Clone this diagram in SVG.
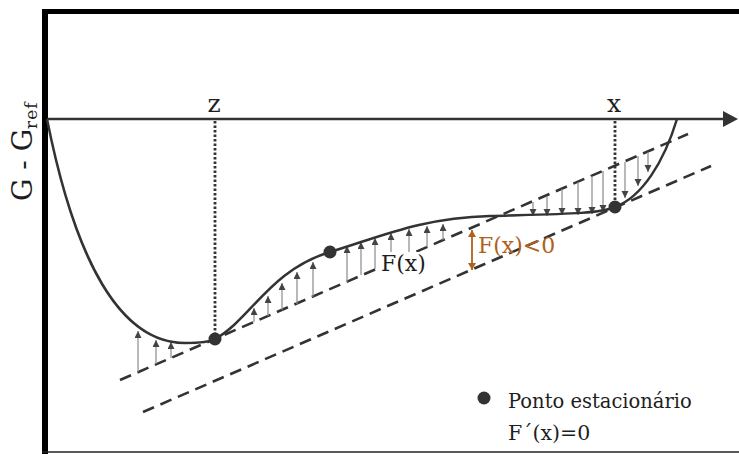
<svg xmlns="http://www.w3.org/2000/svg" width="739" height="454" viewBox="0 0 739 454">
<style>
.serif{font-family:"DejaVu Serif","Liberation Serif",serif;fill:#1e1e1e}
.curve{fill:none;stroke:#333;stroke-width:2.5}
.dash{fill:none;stroke:#333;stroke-width:2.6;stroke-dasharray:12 7}
.dot{fill:none;stroke:#333;stroke-width:2.8;stroke-dasharray:2.5 2}
.arr{stroke:#8a8a8a;stroke-width:1.2;marker-end:url(#ah)}
.pt{fill:#333}
</style>
<defs>
<marker id="ah" markerUnits="userSpaceOnUse" markerWidth="8" markerHeight="8" refX="7" refY="3.5" orient="auto">
<path d="M0,0 L7,3.5 L0,7 z" fill="#444"/>
</marker>
<marker id="oh" markerUnits="userSpaceOnUse" markerWidth="9" markerHeight="9" refX="7" refY="4" orient="auto-start-reverse">
<path d="M0,0 L7,4 L0,8 z" fill="#b0611d"/>
</marker>
</defs>
<rect width="739" height="454" fill="#fff"/>
<g id="frame">
<rect x="42" y="9" width="697" height="5" fill="#000"/>
<rect x="42" y="9" width="6" height="445" fill="#000"/>
<line x1="42" y1="452" x2="739" y2="452" stroke="#222" stroke-width="1.5"/>
</g>
<g id="axis">
<line x1="47" y1="119" x2="726" y2="119" stroke="#333" stroke-width="2.5"/>
<polygon points="723,111 738,119 723,127" fill="#333"/>
</g>
<g id="ylabel">
<text class="serif" transform="translate(32,201) rotate(-90)" font-size="28">G - G<tspan font-size="17" dy="5" letter-spacing="1">ref</tspan></text>
</g>
<g id="connectors">
<line class="dash" x1="120" y1="380" x2="688" y2="134"/>
<line class="dash" x1="143" y1="412" x2="711" y2="166"/>
<line class="dot" x1="215" y1="121" x2="215" y2="334"/>
<line class="dot" x1="615" y1="121" x2="615" y2="202"/>
<g id="up-arrows">
<line class="arr" x1="138" y1="372" x2="138" y2="331"/>
<line class="arr" x1="156" y1="364" x2="156" y2="340"/>
<line class="arr" x1="171" y1="358" x2="171" y2="342"/>
<line class="arr" x1="254" y1="322" x2="254" y2="308"/>
<line class="arr" x1="268" y1="316" x2="268" y2="296"/>
<line class="arr" x1="282" y1="310" x2="282" y2="283"/>
<line class="arr" x1="297" y1="304" x2="297" y2="272"/>
<line class="arr" x1="313" y1="297" x2="313" y2="262"/>
<line class="arr" x1="347" y1="282" x2="347" y2="246"/>
<line class="arr" x1="361" y1="275" x2="361" y2="242"/>
<line class="arr" x1="375" y1="269" x2="375" y2="238"/>
<line class="arr" x1="391" y1="263" x2="391" y2="233"/>
<line class="arr" x1="409" y1="255" x2="409" y2="229"/>
<line class="arr" x1="427" y1="247" x2="427" y2="226"/>
<line class="arr" x1="443" y1="240" x2="443" y2="224"/>
</g>
<g id="down-arrows">
<line class="arr" x1="533" y1="202" x2="533" y2="216"/>
<line class="arr" x1="547" y1="196" x2="547" y2="216"/>
<line class="arr" x1="562" y1="189" x2="562" y2="215"/>
<line class="arr" x1="578" y1="182" x2="578" y2="215"/>
<line class="arr" x1="592" y1="176" x2="592" y2="214"/>
<line class="arr" x1="603" y1="171" x2="603" y2="212"/>
<line class="arr" x1="625" y1="162" x2="625" y2="198"/>
<line class="arr" x1="638" y1="156" x2="638" y2="186"/>
<line class="arr" x1="648" y1="152" x2="648" y2="172"/>
</g>
<line x1="472" y1="230" x2="472" y2="270" stroke="#b0611d" stroke-width="1.8" marker-start="url(#oh)" marker-end="url(#oh)"/>
</g>
<g id="curve">
<path class="curve" d="M47,119 C75,260 120,343 185,343 C200,343 210,342 215,339 C250,320 270,270 330,252 C380,237 420,218 490,216 C560,214 600,214 615,207 C642,197 664,162 677,119"/>
</g>
<g id="point-z"><circle class="pt" cx="215" cy="339" r="6.5"/><text class="serif" x="214" y="112" font-size="25" text-anchor="middle">z</text></g>
<g id="point-mid"><circle class="pt" cx="330" cy="252" r="6.5"/></g>
<g id="point-x"><circle class="pt" cx="615" cy="207" r="6.5"/><text class="serif" x="614" y="112" font-size="25" text-anchor="middle">x</text></g>
<g id="label-F"><rect x="378" y="252" width="50" height="26" fill="#fff"/><text class="serif" x="381" y="271" font-size="22">F(x)</text></g>
<g id="label-Fneg"><text class="serif" x="478" y="253" font-size="22" style="fill:#b0611d">F(x)&lt;0</text></g>
<g id="legend">
<circle class="pt" cx="484" cy="398" r="6.5"/>
<text class="serif" x="508" y="408" font-size="19.5">Ponto estacionário</text>
<text class="serif" x="508" y="440" font-size="20.5">F´(x)=0</text>
</g>
</svg>
